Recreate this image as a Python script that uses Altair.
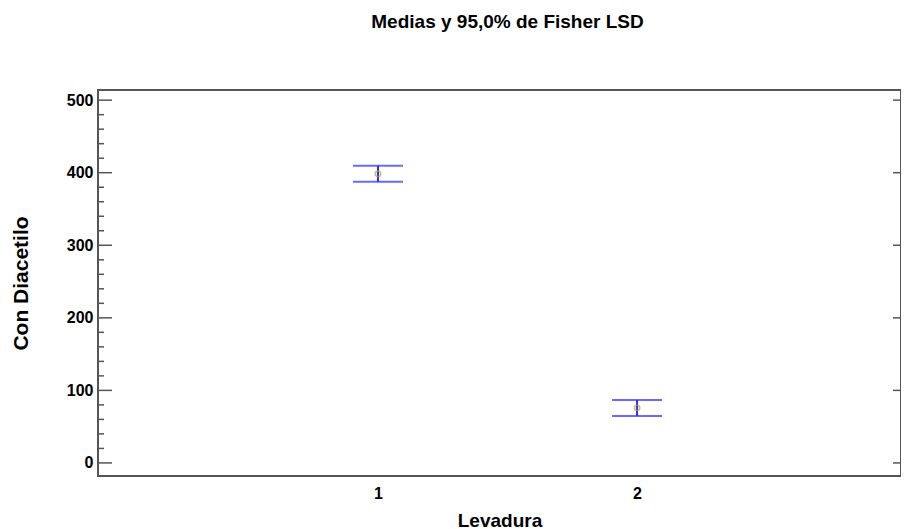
import altair as alt
import pandas as pd

# Data
levadura = [1, 2]
media = [398.6, 75.9]
inferior = [387.6, 64.8]
superior = [409.7, 86.9]

y_major = [0, 100, 200, 300, 400, 500]
y_minor = [v for v in range(20, 500, 20) if v % 100 != 0]
x_labels = [1, 2]

W, H = 803, 386
FONT = "Liberation Sans"
BLUE = "#2b2bff"

df = pd.DataFrame({"Levadura": levadura, "media": media,
                   "inferior": inferior, "superior": superior})
df_major = pd.DataFrame({"v": y_major})
df_minor = pd.DataFrame({"v": y_minor})

xs = alt.Scale(domain=[-0.081, 3.019], nice=False, zero=False)
ys = alt.Scale(domain=[-18, 514], nice=False, zero=False)

xenc = alt.X("Levadura:Q", scale=xs,
             axis=alt.Axis(values=x_labels, format="d", ticks=False, domain=False, grid=False,
                           labelFont=FONT, labelFontWeight="bold", labelFontSize=16,
                           labelColor="black", labelPadding=9,
                           title="Levadura", titleFont=FONT, titleFontWeight="bold",
                           titleFontSize=19, titleColor="black", titlePadding=10))

base = alt.Chart(df)

caps_hi = base.mark_tick(orient="horizontal", size=50, thickness=2, color=BLUE).encode(
    x=xenc,
    y=alt.Y("superior:Q", scale=ys,
            axis=alt.Axis(values=y_major, ticks=False, domain=False, grid=False,
                          labelFont=FONT, labelFontWeight="bold", labelFontSize=16,
                          labelColor="black", labelPadding=5,
                          title="Con Diacetilo", titleFont=FONT, titleFontWeight="bold",
                          titleFontSize=21, titleColor="black", titlePadding=35)),
)
caps_lo = base.mark_tick(orient="horizontal", size=50, thickness=2, color=BLUE).encode(
    x=alt.X("Levadura:Q", scale=xs), y=alt.Y("inferior:Q", scale=ys))
stem = base.mark_rule(color=BLUE, strokeWidth=2).encode(
    x=alt.X("Levadura:Q", scale=xs), y=alt.Y("inferior:Q", scale=ys), y2="superior:Q")
pts = base.mark_point(shape="circle", size=30, filled=False, color="#b0a828",
                      strokeWidth=1.5).encode(
    x=alt.X("Levadura:Q", scale=xs), y=alt.Y("media:Q", scale=ys))

TICK = "#555555"
left_major = alt.Chart(df_major).mark_rule(color=TICK, strokeWidth=1.5).encode(
    x=alt.value(0), x2=alt.value(14), y=alt.Y("v:Q", scale=ys))
left_minor = alt.Chart(df_minor).mark_rule(color=TICK, strokeWidth=1.5).encode(
    x=alt.value(0), x2=alt.value(6), y=alt.Y("v:Q", scale=ys))
right_major = alt.Chart(df_major).mark_rule(color=TICK, strokeWidth=1.5).encode(
    x=alt.value(W - 8), x2=alt.value(W), y=alt.Y("v:Q", scale=ys))

chart = alt.layer(
    left_major, left_minor, right_major, caps_hi, caps_lo, stem, pts
).properties(
    width=W, height=H,
    background="white",
    title=alt.TitleParams("Medias y 95,0% de Fisher LSD", font=FONT, fontWeight="bold",
                          fontSize=19, color="black", anchor="middle", offset=58, dx=8),
    autosize=alt.AutoSizeParams(type="none"),
    padding={"left": 90, "top": 82, "right": 0, "bottom": 53},
).configure_view(
    stroke="#555555", strokeWidth=2
)

chart.save("out.html", embed_options={"renderer": "svg", "actions": False})
